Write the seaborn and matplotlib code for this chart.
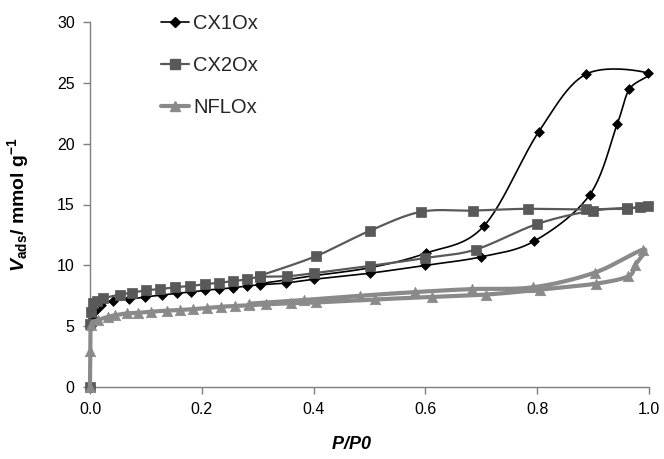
import numpy as np
import pandas as pd
import matplotlib
matplotlib.use("Agg")
import matplotlib.pyplot as plt
from matplotlib.lines import Line2D
import seaborn as sns

# --- isotherm data: relative pressure P/P0 and adsorbed amount (mmol/g) ---
cx1_ads_p = [0.0, 0.001, 0.005, 0.01, 0.02, 0.042, 0.07, 0.098, 0.128, 0.155, 0.18, 0.205,
             0.23, 0.255, 0.28, 0.305, 0.35, 0.40, 0.50, 0.60, 0.70, 0.795, 0.894, 0.943,
             0.965, 0.998]
cx1_ads_v = [0.0, 5.0, 5.65, 6.3, 6.75, 7.1, 7.2, 7.4, 7.55, 7.7, 7.8, 7.95,
             8.05, 8.15, 8.3, 8.4, 8.55, 8.85, 9.35, 10.0, 10.7, 12.0, 15.8, 21.6,
             24.5, 25.8]
cx1_des_p = [0.887, 0.803, 0.704, 0.601, 0.50, 0.40, 0.35, 0.305]
cx1_des_v = [25.7, 21.0, 13.2, 11.0, 9.8, 9.15, 8.8, 8.5]

cx2_ads_p = [0.0, 0.0005, 0.002, 0.006, 0.012, 0.024, 0.054, 0.075, 0.10, 0.125, 0.152,
             0.179, 0.206, 0.231, 0.256, 0.281, 0.304, 0.352, 0.40, 0.50, 0.60, 0.69,
             0.80, 0.899, 0.961, 0.984, 0.998]
cx2_ads_v = [0.0, 5.2, 6.2, 6.9, 7.1, 7.3, 7.6, 7.75, 7.95, 8.05, 8.2,
             8.3, 8.45, 8.57, 8.7, 8.85, 9.05, 9.1, 9.35, 9.95, 10.6, 11.3,
             13.4, 14.5, 14.65, 14.8, 14.85]
cx2_des_p = [0.96, 0.887, 0.784, 0.686, 0.592, 0.501, 0.404, 0.304]
cx2_des_v = [14.7, 14.6, 14.65, 14.5, 14.4, 12.85, 10.75, 9.15]

nf_ads_p = [0.0, 0.0005, 0.002, 0.015, 0.033, 0.045, 0.066, 0.086, 0.11, 0.137, 0.161,
            0.185, 0.21, 0.235, 0.26, 0.285, 0.315, 0.36, 0.405, 0.51, 0.612, 0.709,
            0.805, 0.906, 0.963, 0.975, 0.99]
nf_ads_v = [0.0, 3.0, 5.1, 5.5, 5.78, 5.9, 6.05, 6.1, 6.2, 6.27, 6.33,
            6.4, 6.5, 6.6, 6.65, 6.72, 6.8, 6.88, 6.95, 7.2, 7.4, 7.6,
            8.0, 8.5, 9.1, 10.0, 11.3]
nf_des_p = [0.903, 0.793, 0.684, 0.581, 0.483, 0.382, 0.285]
nf_des_v = [9.4, 8.2, 8.05, 7.8, 7.5, 7.15, 6.85]

x_ticks = [0.0, 0.2, 0.4, 0.6, 0.8, 1.0]
y_ticks = [0, 5, 10, 15, 20, 25, 30]


def smooth_curve(xs, ys, n=24, sx=559.0, sy=12.17):
    """Bezier smoothing through every point (Catmull-Rom style tangents)."""
    P = np.column_stack([np.asarray(xs, float) * sx, np.asarray(ys, float) * sy])
    t = np.linspace(0, 1, n)[:, None]
    parts = []
    for i in range(len(P) - 1):
        p0 = P[i - 1] if i > 0 else P[i]
        p1, p2 = P[i], P[i + 1]
        p3 = P[i + 2] if i + 2 < len(P) else P[i + 1]
        c1 = p1 + (p2 - p0) / 6.0
        c2 = p2 - (p3 - p1) / 6.0
        seg = (1 - t) ** 3 * p1 + 3 * (1 - t) ** 2 * t * c1 + 3 * (1 - t) * t ** 2 * c2 + t ** 3 * p2
        parts.append(seg if i == 0 else seg[1:])
    out = np.vstack(parts)
    return out[:, 0] / sx, out[:, 1] / sy


series = [
    ("CX1Ox", cx1_ads_p + cx1_des_p, cx1_ads_v + cx1_des_v, "#000000", "D", 5, 1.2),
    ("CX2Ox", cx2_ads_p + cx2_des_p, cx2_ads_v + cx2_des_v, "#595959", "s", 7, 1.6),
    ("NFLOx", nf_ads_p + nf_des_p, nf_ads_v + nf_des_v, "#8a8a8a", "^", 7.5, 3.0),
]

sns.set_theme(style="ticks")
plt.rcParams["font.family"] = ["Liberation Sans", "DejaVu Sans"]
plt.rcParams["mathtext.fontset"] = "custom"
plt.rcParams["mathtext.rm"] = "Liberation Sans"
plt.rcParams["mathtext.bf"] = "Liberation Sans:bold"
plt.rcParams["mathtext.it"] = "Liberation Sans:italic"
plt.rcParams["mathtext.bfit"] = "Liberation Sans:italic:bold"

fig = plt.figure(figsize=(6.64, 4.59), dpi=100)
ax = fig.add_axes([90 / 664, 1 - 387 / 459, 559 / 664, 365 / 459])

handles = []
for z, (name, px, vy, color, marker, ms, lw) in enumerate(series):
    cx, cy = smooth_curve(px, vy)
    curve = pd.DataFrame({"p": cx, "v": cy})
    pts = pd.DataFrame({"p": px, "v": vy})
    sns.lineplot(data=curve, x="p", y="v", sort=False, estimator=None, color=color,
                 linewidth=lw, ax=ax, zorder=3 + z, clip_on=False)
    sns.scatterplot(data=pts, x="p", y="v", marker=marker, color=color, s=ms ** 2,
                    edgecolor=color, linewidth=0.5, ax=ax, zorder=3.5 + z, clip_on=False)
    handles.append(Line2D([], [], color=color, marker=marker, markersize=ms,
                          markeredgecolor=color, linewidth=lw, label=name))

ax.set_xlim(0, 1)
ax.set_ylim(0, 30)
ax.set_xticks(x_ticks)
ax.set_xticklabels([f"{v:.1f}" for v in x_ticks])
ax.set_yticks(y_ticks)
ax.set_yticklabels([str(v) for v in y_ticks])

for side in ("top", "right"):
    ax.spines[side].set_visible(False)
for side in ("left", "bottom"):
    ax.spines[side].set_color("#7f7f7f")
    ax.spines[side].set_linewidth(1.0)
ax.tick_params(axis="both", direction="out", length=5, width=1.0, color="#7f7f7f",
               labelsize=11.5, labelcolor="#000000", pad=6)

ax.set_xlabel(r"$\mathbfit{P/P0}$", fontsize=13, color="#000000")
ax.xaxis.set_label_coords((351 - 90) / 559, -0.135)
ax.set_ylabel(r"$\mathbfit{V}_{\mathbf{ads}}\mathbf{/\ mmol\ g}^{\mathbf{-1}}$",
              fontsize=14, color="#000000")
ax.yaxis.set_label_coords(-0.105, 0.5)

fig.legend(handles=handles, loc="upper left", bbox_to_anchor=(161 / 664, 1 - 14 / 459),
           frameon=False, fontsize=14.5, handlelength=1.4, handletextpad=0.2,
           labelspacing=1.15, borderpad=0, borderaxespad=0)

fig.savefig("out.png", dpi=100, facecolor="white")
